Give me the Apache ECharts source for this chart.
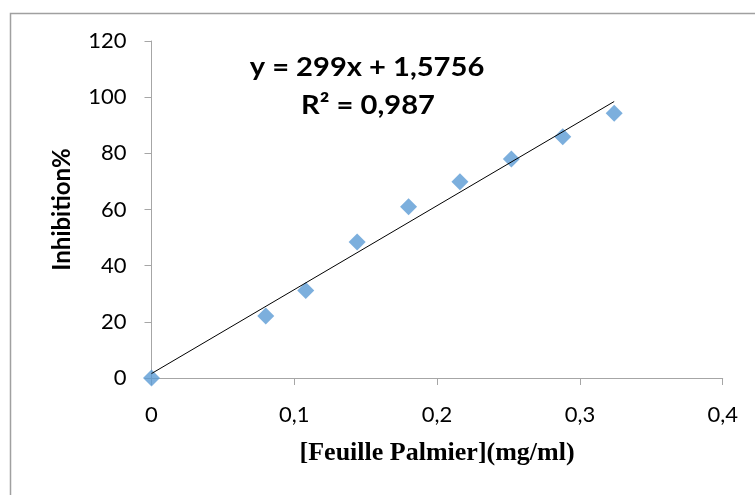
<!DOCTYPE html>
<html>
<head>
<meta charset="utf-8">
<script src="https://cdn.jsdelivr.net/npm/echarts@6/dist/echarts.min.js"></script>
<style>html,body{margin:0;padding:0;background:#fff;}#c{width:755px;height:495px;}</style>
</head>
<body>
<div id="c"></div>
<script>
var concentrations = [0, 0.08, 0.108, 0.144, 0.18, 0.216, 0.252, 0.288, 0.324];
var inhibition = [0, 22.1, 31.2, 48.4, 61.0, 69.9, 78.0, 85.9, 94.3];
var trendSlope = 299;
var trendIntercept = 1.5756;
var trendRange = [0, 0.324];
var xTicks = [0, 0.1, 0.2, 0.3, 0.4];
var yTicks = [0, 20, 40, 60, 80, 100, 120];
var equationText = 'y = 299x + 1,5756';
var r2Text = 'R² = 0,987';
var xTitle = '[Feuille Palmier](mg/ml)';
var yTitle = 'Inhibition%';

var points = concentrations.map(function (x, i) { return [x, inhibition[i]]; });
var trend = trendRange.map(function (x) { return [x, trendSlope * x + trendIntercept]; });

var chart = echarts.init(document.getElementById('c'), null, {renderer: 'canvas'});
var labelFont = 'Lato, Calibri, "Open Sans", sans-serif';
chart.setOption({
  animation: false,
  backgroundColor: '#fff',
  grid: {left: 151.5, right: 32.3, top: 41, bottom: 117, containLabel: false},
  xAxis: {
    type: 'value', min: xTicks[0], max: xTicks[xTicks.length - 1], interval: 0.1,
    name: xTitle, nameLocation: 'middle', nameGap: 62,
    nameTextStyle: {fontFamily: '"Liberation Serif", "Times New Roman", serif', fontWeight: 'bold', fontSize: 26, color: '#000'},
    axisLine: {show: true, onZero: false, lineStyle: {color: '#A6A6A6', width: 1}},
    axisTick: {show: true, inside: false, length: 7, lineStyle: {color: '#A6A6A6'}},
    splitLine: {show: false},
    axisLabel: {margin: 26, fontFamily: labelFont, fontSize: 22, color: '#000',
      formatter: function (v) { return String(+v.toFixed(1)).replace('.', ','); }}
  },
  yAxis: {
    type: 'value', min: yTicks[0], max: yTicks[yTicks.length - 1], interval: 20,
    name: yTitle, nameLocation: 'middle', nameGap: 77, nameRotate: 90,
    nameTextStyle: {fontFamily: labelFont, fontWeight: 'bold', fontSize: 24, color: '#000'},
    axisLine: {show: true, lineStyle: {color: '#A6A6A6', width: 1}},
    axisTick: {show: true, inside: false, length: 7, lineStyle: {color: '#A6A6A6'}},
    splitLine: {show: false},
    axisLabel: {margin: 25, fontFamily: labelFont, fontSize: 22, color: '#000'}
  },
  graphic: [
    {type: 'rect', left: 8, top: 11, z: -1, silent: true,
      shape: {x: 0, y: 0, width: 900, height: 700},
      style: {fill: 'none', stroke: '#A0A0A0', lineWidth: 1.5}},
    {type: 'text', x: 367, y: 68, z: 10, scaleX: 1.12,
      style: {text: equationText, textAlign: 'center', textVerticalAlign: 'middle',
        font: 'bold 26px ' + labelFont, fill: '#000'}},
    {type: 'text', x: 368, y: 106, z: 10, scaleX: 1.12,
      style: {text: r2Text, textAlign: 'center', textVerticalAlign: 'middle',
        font: 'bold 26px ' + labelFont, fill: '#000'}}
  ],
  series: [
    {type: 'scatter', data: points, symbol: 'diamond', symbolSize: 17,
      itemStyle: {color: '#5B9BD5'}, z: 2},
    {type: 'line', data: trend, symbol: 'none', lineStyle: {color: '#000', width: 1}, z: 3}
  ]
});
</script>
</body>
</html>
